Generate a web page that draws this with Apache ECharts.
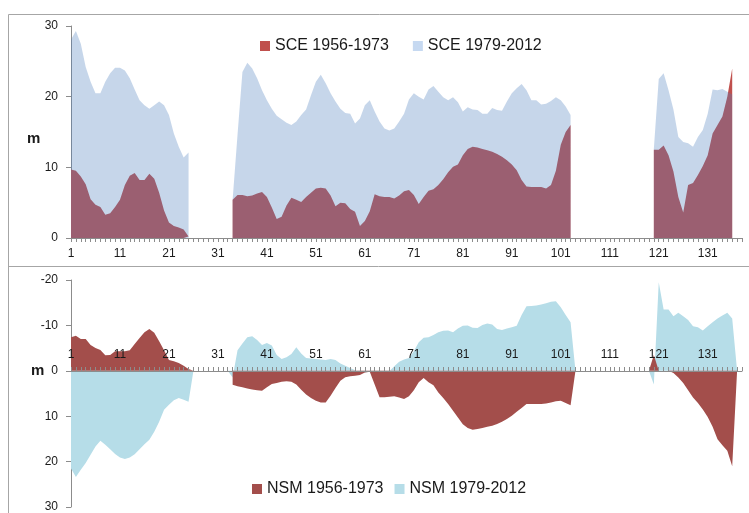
<!DOCTYPE html>
<html>
<head>
<meta charset="utf-8">
<script src="https://cdn.jsdelivr.net/npm/echarts@6/dist/echarts.min.js"></script>
<style>
  html, body { margin: 0; padding: 0; background: #fff; }
  #chart { width: 749px; height: 513px; }
</style>
</head>
<body>
<div id="chart"></div>
<script>
// stations 1..138 along the section
const categories = Array.from({ length: 138 }, (_, i) => String(i + 1))
const gap = (n) => Array(n).fill(null)

// SCE (top panel), three river segments
const sceOldA = [9.7, 9.5, 8.7, 7.6, 5.5, 4.7, 4.4, 3.3, 3.5, 4.4, 5.4, 7.5, 8.8, 9.2, 8.2, 8.2, 9.1, 8.4, 6.4, 3.9, 2.2, 1.7, 1.5, 1.2, 0.2]
const sceNewA = [28.1, 29.3, 27.5, 24.2, 22.1, 20.5, 20.5, 22.1, 23.3, 24.1, 24.1, 23.7, 22.6, 21.0, 19.5, 18.8, 18.3, 18.8, 19.3, 18.8, 17.4, 14.8, 12.9, 11.4, 12.1]
const sceOldB = [5.4, 6.1, 6.1, 5.9, 6.0, 6.3, 6.5, 5.8, 4.3, 2.7, 3.0, 4.6, 5.7, 5.4, 5.1, 5.8, 6.4, 7.0, 7.1, 7.0,
  6.0, 4.5, 5.0, 4.9, 4.1, 3.7, 1.7, 2.4, 3.8, 6.2, 5.9, 5.8, 5.8, 5.6, 6.0, 6.6, 6.8, 6.1, 4.8, 5.8,
  6.7, 6.9, 7.5, 8.3, 9.3, 10.1, 10.4, 11.7, 12.6, 12.9, 12.8, 12.6, 12.4, 12.2, 11.9, 11.5, 11.0, 10.4, 9.6, 8.2,
  7.3, 7.2, 7.2, 7.2, 7.0, 7.5, 9.5, 13.2, 15.0, 16.0]
const sceNewB = [5.4, 14.6, 23.5, 24.8, 24.0, 22.6, 20.9, 19.5, 18.3, 17.3, 16.8, 16.3, 16.0, 16.5, 17.4, 18.2, 20.2, 22.1, 23.1, 21.9,
  20.5, 19.3, 18.3, 17.7, 17.6, 16.2, 16.9, 18.8, 19.5, 17.9, 16.5, 15.5, 15.2, 15.5, 16.5, 17.6, 19.6, 20.5, 20.0, 19.6,
  21.0, 21.5, 20.7, 19.9, 19.5, 19.9, 19.2, 17.9, 18.5, 18.2, 18.1, 17.6, 17.6, 18.4, 18.1, 18.0, 19.3, 20.5, 21.2, 21.8,
  20.9, 19.5, 19.5, 18.9, 19.0, 19.4, 19.9, 19.5, 18.6, 17.4]
const sceOldC = [12.5, 12.5, 13.1, 11.7, 9.4, 5.8, 3.6, 7.5, 7.8, 8.9, 10.2, 11.7, 14.8, 16.0, 17.2, 20.0, 24.0]
const sceNewC = [12.6, 22.5, 23.3, 20.9, 18.2, 14.3, 13.6, 13.4, 12.9, 14.3, 15.3, 17.6, 21.0, 20.9, 21.1, 20.7, 20.3]

// NSM (bottom panel)
const nsmOldA = [-7.4, -7.7, -7.0, -7.0, -5.7, -5.0, -4.6, -3.4, -3.5, -4.3, -4.3, -4.3, -4.5, -5.9, -7.2, -8.5, -9.2, -8.4, -6.5, -4.5, -2.4, -2.1, -1.7, -1.1, -0.4, 0]
const nsmNewA = [21.5, 23.4, 21.8, 20.3, 18.5, 16.7, 15.4, 16.3, 17.3, 18.3, 19.1, 19.4, 19.1, 18.4, 17.3, 16.2, 15.2, 13.4, 11.2, 8.6, 7.5, 6.5, 6.0, 6.4, 6.8, 0]
const nsmOldB = [3.1, 3.4, 3.6, 3.9, 4.1, 4.3, 4.4, 3.6, 2.9, 2.7, 2.4, 2.3, 2.4, 3.0, 4.2, 5.2, 6.0, 6.6, 7.0, 7.0,
  5.5, 3.8, 2.2, 1.4, 1.2, 1.1, 0.9, 0.4, 0.2, 3.0, 5.8, 5.8, 5.7, 5.6, 5.9, 6.2, 5.6, 4.3, 2.5, 1.6,
  2.5, 3.2, 4.8, 6.0, 7.3, 8.8, 10.3, 11.8, 12.6, 13.0, 12.8, 12.6, 12.3, 12.1, 11.7, 11.2, 10.6, 9.9, 9.0, 8.2,
  7.3, 7.3, 7.3, 7.3, 7.2, 7.0, 6.7, 6.6, 7.1, 7.6, 0]
const nsmNewB = [0, 1.5, -4.5, -6.0, -7.4, -7.6, -6.8, -5.7, -6.1, -5.6, -3.5, -2.6,
  -3.0, -3.7, -5.2, -3.8, -2.8, -2.7, -2.6, -2.5, -2.4, -2.6, -2.4, -1.6, -1.1, -0.6, -0.1, 0.2, 0.4, 0.2, 0.3, 0.9,
  1.1, 0.1, -1.0, -2.0, -2.5, -2.8, -4.3, -6.3, -7.3, -7.4, -7.9, -8.5, -8.8, -8.9, -8.5, -9.3, -9.9, -10.0, -9.5, -9.4,
  -10.1, -10.4, -10.2, -9.2, -9.0, -9.3, -9.6, -9.9, -12.3, -14.2, -14.3, -14.4, -14.6, -14.9, -15.2, -15.3, -14.0, -12.3, -10.7, 0]
const nsmOldC = [0, -3.5, 0, 0, 0, 0.5, 1.5, 2.7, 4.3, 5.9, 7.1, 8.5, 10.2, 12.3, 15.1, 16.4, 17.6, 21.0, 0]
const nsmNewC = [0, 3.0, -19.5, -13.5, -13.5, -12.0, -12.8, -12.0, -11.2, -9.8, -9.6, -8.9, -9.8, -10.7, -11.5, -12.2, -12.8, -11.5, 0]

const sceOld = [...sceOldA, ...gap(8), ...sceOldB, ...gap(16), ...sceOldC, ...gap(2)]
const sceNew = [...sceNewA, ...gap(8), ...sceNewB, ...gap(16), ...sceNewC, ...gap(2)]
const nsmOld = [...nsmOldA, ...gap(7), ...nsmOldB, ...gap(14), ...nsmOldC, ...gap(1)]
const nsmNew = [...nsmNewA, ...gap(6), ...nsmNewB, ...gap(14), ...nsmNewC, ...gap(1)]

const FONT = 'Liberation Sans, Arial, sans-serif'
const AXIS = '#8c8c8c'

function areaSeries(name, data, idx, fill, legendColor) {
  return {
    name, type: 'line', data,
    xAxisIndex: idx, yAxisIndex: idx,
    symbol: 'none', showSymbol: false,
    lineStyle: { width: 0 },
    itemStyle: { color: legendColor },
    areaStyle: { color: fill, opacity: 1 },
    emphasis: { disabled: true },
  }
}

// bottom panel: axis sits on zero of the inverted y axis (136px above the grid bottom)
function catAxis(idx, inside, offset) {
  return {
    type: 'category', gridIndex: idx, data: categories, boundaryGap: false,
    position: 'bottom', offset, z: 10,
    axisLine: { onZero: false, lineStyle: { color: AXIS, width: 1 } },
    axisTick: { show: true, interval: 0, inside, length: 4, lineStyle: { color: AXIS } },
    axisLabel: { interval: 9, inside, margin: 10, color: '#1a1a1a', fontSize: 12, fontFamily: FONT },
    splitLine: { show: false },
  }
}

function valAxis(idx, min, max, inverse) {
  return {
    type: 'value', gridIndex: idx, min, max, interval: 10, inverse,
    axisLine: { show: true, lineStyle: { color: AXIS } },
    axisTick: { show: true, length: 5, lineStyle: { color: AXIS } },
    axisLabel: { margin: 13, color: '#1a1a1a', fontSize: 12, fontFamily: FONT },
    splitLine: { show: false },
  }
}

const chart = echarts.init(document.getElementById('chart'))
chart.setOption({
  animation: false,
  textStyle: { fontFamily: FONT },
  grid: [
    { left: 71, right: 7, top: 26, height: 212 },
    { left: 71, right: 7, top: 280, height: 227 },
  ],
  xAxis: [catAxis(0, false, 0), catAxis(1, true, -136)],
  yAxis: [valAxis(0, 0, 30, false), valAxis(1, -20, 30, true)],
  legend: [
    {
      left: 255, top: 33, icon: 'rect', itemWidth: 10, itemHeight: 10, itemGap: 24,
      textStyle: { fontSize: 16, color: '#1a1a1a', fontFamily: FONT },
      data: [
        { name: 'SCE 1956-1973', itemStyle: { color: '#c0504d' } },
        { name: 'SCE 1979-2012', itemStyle: { color: '#c6d9f1' } },
      ],
    },
    {
      left: 247, top: 476, icon: 'rect', itemWidth: 10, itemHeight: 10, itemGap: 11,
      textStyle: { fontSize: 16, color: '#1a1a1a', fontFamily: FONT },
      data: [
        { name: 'NSM 1956-1973', itemStyle: { color: '#a34e4b' } },
        { name: 'NSM 1979-2012', itemStyle: { color: '#b6dde8' } },
      ],
    },
  ],
  graphic: [
    { type: 'rect', silent: true, shape: { x: 8.5, y: 14.5, width: 800, height: 600 },
      style: { fill: 'none', stroke: '#a6a6a6', lineWidth: 1 } },
    { type: 'line', silent: true, shape: { x1: 8, y1: 266.5, x2: 749, y2: 266.5 },
      style: { stroke: '#a6a6a6', lineWidth: 1 } },
    { type: 'text', left: 27, top: 131, silent: true,
      style: { text: 'm', font: 'bold 15px ' + FONT, fill: '#1a1a1a' } },
    { type: 'text', left: 31, top: 363, silent: true,
      style: { text: 'm', font: 'bold 15px ' + FONT, fill: '#1a1a1a' } },
  ],
  series: [
    areaSeries('SCE 1956-1973', sceOld, 0, '#c0504d', '#c0504d'),
    areaSeries('SCE 1979-2012', sceNew, 0, 'rgba(79,129,189,0.32)', '#c6d9f1'),
    areaSeries('NSM 1979-2012', nsmNew, 1, '#b6dde8', '#b6dde8'),
    areaSeries('NSM 1956-1973', nsmOld, 1, '#a34e4b', '#a34e4b'),
  ],
})
</script>
</body>
</html>
